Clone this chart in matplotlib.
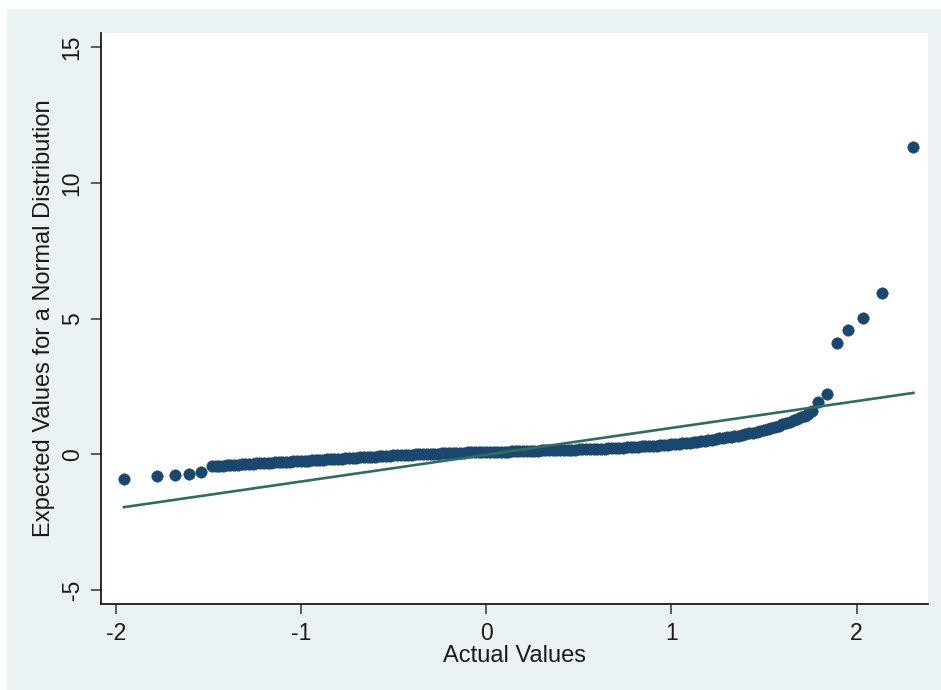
#!/usr/bin/env python3
"""Normal Q-Q style plot: expected normal values vs actual values."""
import matplotlib; matplotlib.use("Agg")
import matplotlib.pyplot as plt
from matplotlib.patches import Rectangle

NAVY="#1A476F"; GREEN="#2E6E5C"; BG="#EAF2F3"; INK="#1A1A1A"
plt.rcParams.update({"font.family":["Liberation Sans","DejaVu Sans"],"axes.unicode_minus":False})

band_x=[-1.48,-1.46,-1.44,-1.42,-1.40,-1.38,-1.36,-1.34,-1.32,-1.30,-1.28,-1.26,-1.24,-1.22,-1.20,
        -1.18,-1.16,-1.14,-1.12,-1.10,-1.08,-1.06,-1.04,-1.02,-1.00,-0.98,-0.96,-0.94,-0.92,-0.90,
        -0.88,-0.86,-0.84,-0.82,-0.80,-0.78,-0.76,-0.74,-0.72,-0.70,-0.68,-0.66,-0.64,-0.62,-0.60,
        -0.58,-0.56,-0.54,-0.52,-0.50,-0.48,-0.46,-0.44,-0.42,-0.40,-0.38,-0.36,-0.34,-0.32,-0.30,
        -0.28,-0.26,-0.24,-0.22,-0.20,-0.18,-0.16,-0.14,-0.12,-0.10,-0.08,-0.06,-0.04,-0.02,0.00,
        0.02,0.04,0.06,0.08,0.10,0.12,0.14,0.16,0.18,0.20,0.22,0.24,0.26,0.28,0.30,
        0.32,0.34,0.36,0.38,0.40,0.42,0.44,0.46,0.48,0.50,0.52,0.54,0.56,0.58,0.60,
        0.62,0.64,0.66,0.68,0.70,0.72,0.74,0.76,0.78,0.80,0.82,0.84,0.86,0.88,0.90,
        0.92,0.94,0.96,0.98,1.00,1.02,1.04,1.06,1.08,1.10,1.12,1.14,1.16,1.18,1.20,
        1.22,1.24,1.26,1.28,1.30,1.32,1.34,1.36,1.38,1.40,1.42,1.44,1.46,1.48,1.50,
        1.52,1.54,1.56,1.58,1.60,1.62,1.64,1.66,1.68,1.70,1.72,1.74,1.76]
band_y=[-0.45,-0.44,-0.43,-0.42,-0.41,-0.40,-0.39,-0.38,-0.37,-0.362,-0.355,-0.348,-0.34,-0.332,-0.325,
        -0.318,-0.31,-0.302,-0.295,-0.288,-0.28,-0.272,-0.265,-0.258,-0.25,-0.242,-0.235,-0.228,-0.22,-0.21,
        -0.20,-0.192,-0.185,-0.178,-0.17,-0.16,-0.15,-0.142,-0.135,-0.128,-0.12,-0.11,-0.10,-0.092,-0.085,
        -0.078,-0.07,-0.06,-0.05,-0.042,-0.035,-0.028,-0.02,-0.015,-0.01,-0.005,0.00,0.005,0.01,0.015,
        0.02,0.025,0.03,0.035,0.04,0.045,0.05,0.055,0.06,0.065,0.07,0.072,0.075,0.078,0.08,
        0.085,0.09,0.092,0.095,0.098,0.10,0.105,0.11,0.115,0.12,0.125,0.13,0.132,0.135,0.138,
        0.14,0.145,0.15,0.152,0.155,0.158,0.16,0.165,0.17,0.175,0.18,0.185,0.19,0.195,0.20,
        0.205,0.21,0.218,0.225,0.232,0.24,0.248,0.255,0.262,0.27,0.278,0.285,0.292,0.30,0.31,
        0.32,0.33,0.34,0.35,0.36,0.372,0.385,0.398,0.41,0.428,0.445,0.462,0.48,0.50,0.52,
        0.54,0.56,0.58,0.60,0.62,0.64,0.665,0.69,0.715,0.74,0.765,0.79,0.815,0.84,0.88,
        0.92,0.96,1.00,1.05,1.10,1.15,1.20,1.25,1.30,1.36,1.42,1.50,1.58]
# sparse tail observations
tail_x=[-1.955,-1.779,-1.678,-1.604,-1.539,1.794,1.842,1.893,1.956,2.033,2.138,2.307]
tail_y=[-0.90,-0.81,-0.77,-0.715,-0.65,1.94,2.22,4.09,4.57,5.03,5.95,11.33]
# reference line
ref_x=[-1.955,2.307]; ref_y=[-1.95,2.26]
xticks=[-2,-1,0,1,2]; yticks=[-5,0,5,10,15]

fig=plt.figure(figsize=(9.41,6.9),dpi=100,facecolor="white")
fig.add_artist(Rectangle((7/941,0),1-7/941,1-9/690,transform=fig.transFigure,
                         facecolor=BG,edgecolor="none",zorder=-10))
ax=fig.add_axes([101/941,1-603.5/690,(927.7-101)/941,(603.5-33.3)/690])
ax.set_zorder(5); ax.set_facecolor("white")
ax.plot(band_x+tail_x,band_y+tail_y,"o",ms=8.3,color=NAVY,mec=NAVY,mew=0.3,zorder=2)
ax.plot(ref_x,ref_y,color=GREEN,lw=1.9,zorder=3)
ax.set_xlim(-2.079,2.384); ax.set_ylim(-5.50,15.51)
for s in ["top","right"]: ax.spines[s].set_visible(False)
for s in ["left","bottom"]: ax.spines[s].set(color=INK,linewidth=1.3)
ax.set_xticks(xticks); ax.set_xticklabels([str(t) for t in xticks])
ax.set_yticks(yticks); ax.set_yticklabels([str(t) for t in yticks],rotation=90,va="center")
ax.tick_params(length=7.5,width=1.1,color="#333333",labelsize=16.5,labelcolor=INK,pad=6)
ax.tick_params(axis="y",pad=5)
ax.set_xlabel("Actual Values",fontsize=17,color=INK,labelpad=0)
ax.set_ylabel("Expected Values for a Normal Distribution",fontsize=17,color=INK,labelpad=4)
fig.savefig("out.png",dpi=100,facecolor="white")
